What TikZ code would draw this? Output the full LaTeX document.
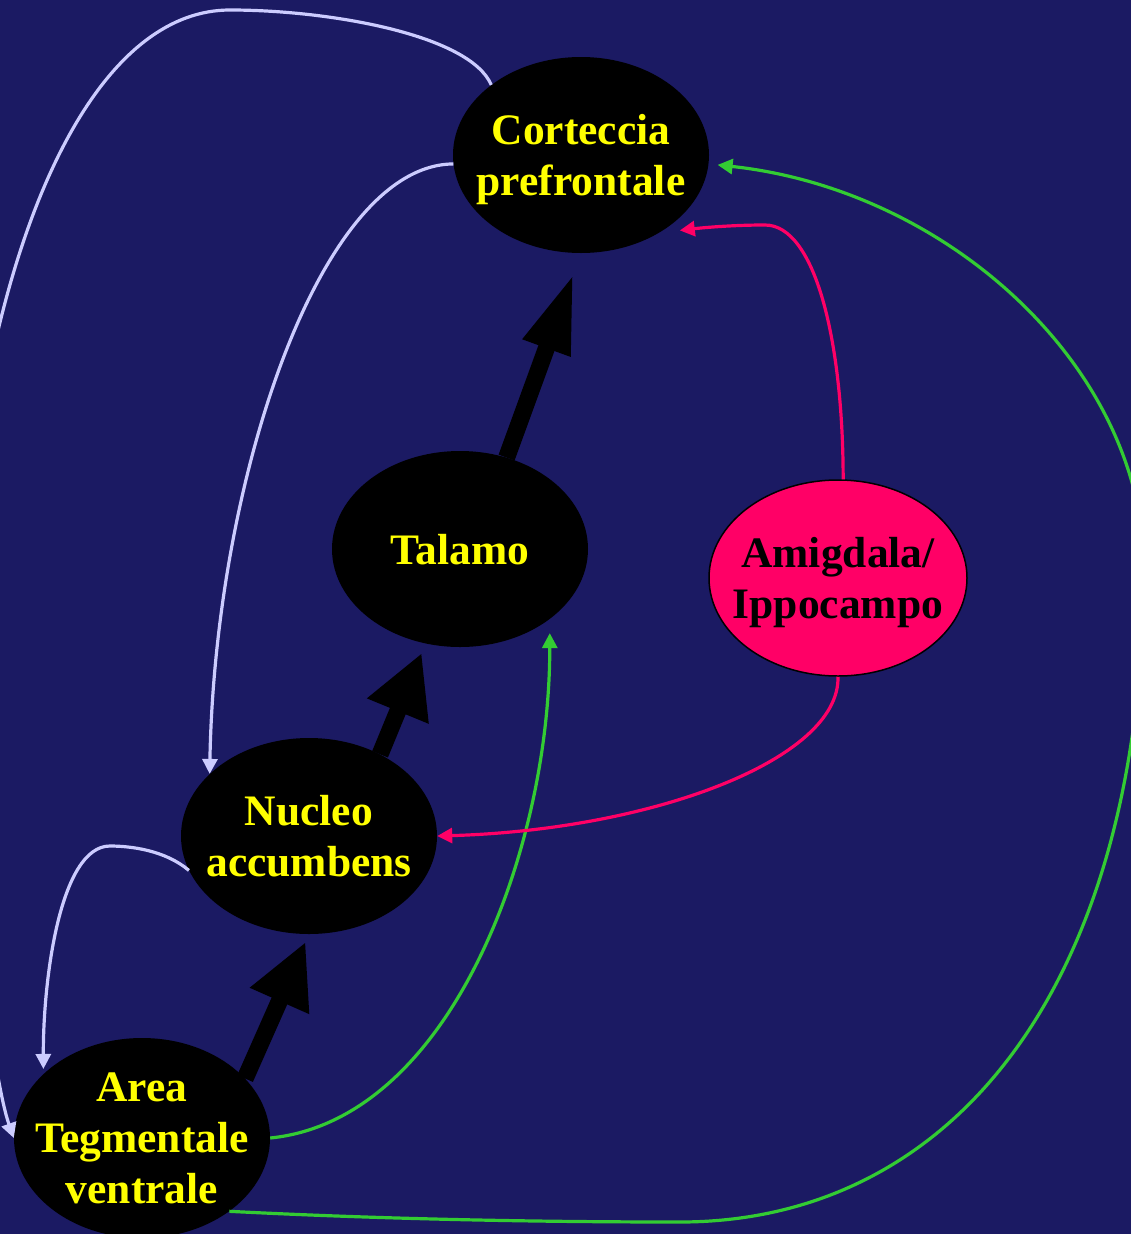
\documentclass[tikz,border=0pt]{standalone}
\usepackage{fontspec}
\setmainfont{Liberation Serif}
\usetikzlibrary{arrows.meta,shapes.geometric}

\definecolor{sfondo}{RGB}{27,26,99}
\definecolor{lilla}{RGB}{204,204,255}
\definecolor{verde}{RGB}{51,204,51}
\definecolor{rosa}{RGB}{255,0,102}
\definecolor{giallo}{RGB}{255,255,0}

\begin{document}
\begin{tikzpicture}[x=1pt, y=-1pt,
  regione/.style={ellipse, fill=black, text=giallo, minimum width=256pt, minimum height=196pt,
    inner sep=-20pt, align=center, text depth=0pt, font=\fontsize{43.5}{51}\selectfont\bfseries},
  freccia/.style 2 args={line width=17pt, -{Triangle[width=#1pt,length=#2pt]}},
  filo/.style={line width=3.2pt, -{Triangle[width=15pt,length=15pt]}}]

  % pagina fissa: niente fuori da qui allarga la pagina
  \useasboundingbox (0,0) rectangle (1131,1234);

  % ════ sfondo ════
  \fill[sfondo] (0,0) rectangle (1131,1234);

  % ════ regioni (ellissi) ════
  \node[regione] (corteccia) at (581,155) {Corteccia\\prefrontale};
  \node[regione] (talamo)    at (460,549) {Talamo};
  \node[regione, fill=rosa, draw=black, line width=1.5pt, text=black,
        minimum width=258pt] (amigdala) at (838,578) {Amigdala/\\Ippocampo};
  \node[regione] (nucleo)    at (309,836) {Nucleo\\accumbens};
  \node[regione, minimum height=200pt] (area) at (142,1138) {Area\\Tegmentale\\ventrale};

  % ════ frecce nere (via principale) ════
  \draw[freccia={60}{65}, shorten >=8pt] (area.30) -- (nucleo.south);
  \draw[freccia={62}{63}, shorten >=10pt] (nucleo.49) -- (talamo.250);
  \draw[freccia={46}{80}, shorten >=21pt] (talamo.63) -- (corteccia.south);

  % ════ proiezioni lilla ════
  \draw[filo, lilla] (corteccia.142) .. controls (470,35) and (330,10) .. (230,10)
     .. controls (110,10) and (20,180) .. (-20,420)
     .. controls (-55,700) and (-13,1062) .. (area.west);
  \draw[filo, lilla] (corteccia.184) .. controls (320,165) and (215,480) .. (nucleo.148);
  \draw[filo, lilla, shorten >=5pt] (nucleo.196) .. controls (165,850) and (130,846) .. (110,846)
     .. controls (60,846) and (43,980) .. (area.147);

  % ════ proiezioni verdi ════
  \draw[filo, verde, shorten >=14pt] (area.east) .. controls (450,1120) and (550,850) .. (talamo.322);
  \draw[filo, verde, shorten >=9pt] (area.320) .. controls (400,1220) and (560,1222) .. (680,1222)
     .. controls (950,1222) and (1142,990) .. (1144,570)
     .. controls (1145,370) and (950,190) .. (corteccia.-4);

  % ════ proiezioni rosa (amigdala/ippocampo) ════
  \draw[filo, rosa, shorten >=21pt] (amigdala.87) .. controls (843,340) and (815,225) .. (765,225)
     .. controls (730,225) and (700,228) .. (corteccia.315);
  \draw[filo, rosa] (amigdala.south) .. controls (840,760) and (650,830) .. (nucleo.east);
\end{tikzpicture}
\end{document}
